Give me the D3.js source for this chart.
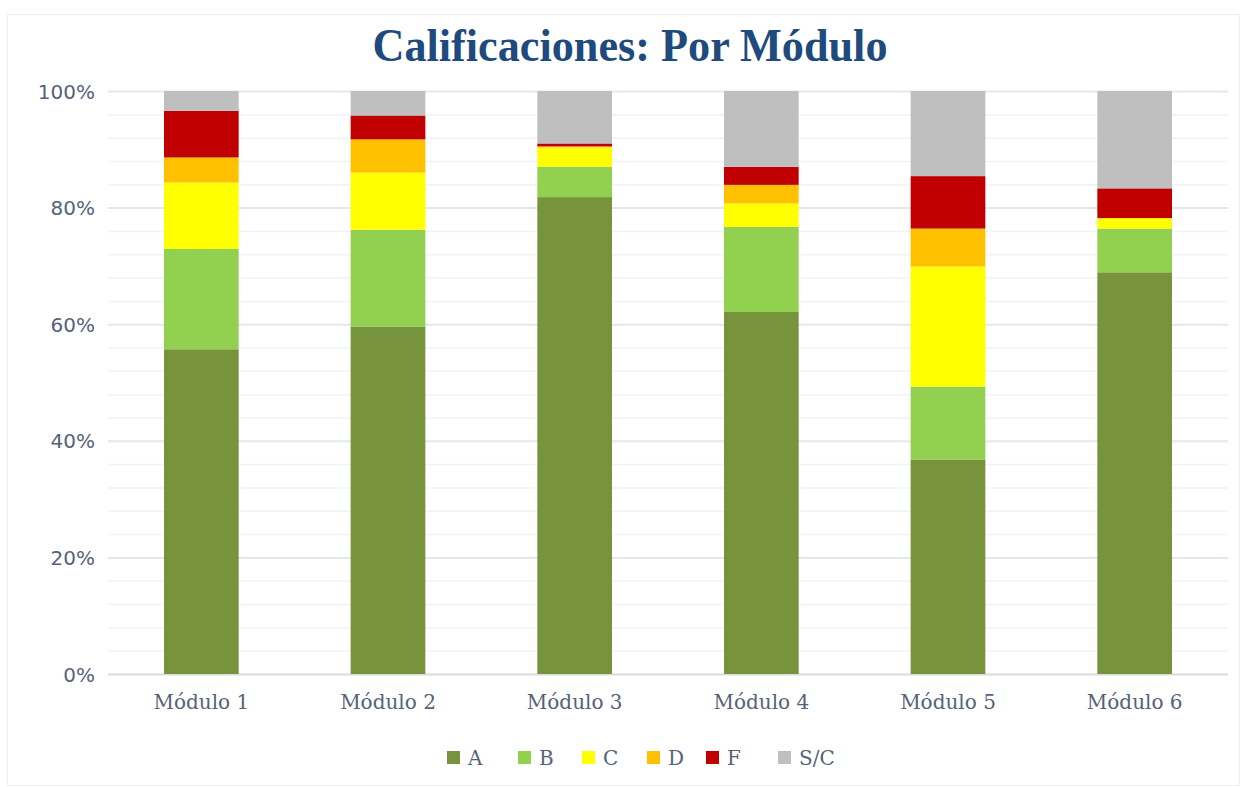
<!DOCTYPE html>
<html>
<head>
<meta charset="utf-8">
<script src="https://cdn.jsdelivr.net/npm/d3@7"></script>
<style>
  body { margin: 0; background: #fff; }
  svg { display: block; }
</style>
</head>
<body>
<svg width="1241" height="787"></svg>
<script>
// datos (porcentaje por modulo)
const modulos = ["Módulo 1", "Módulo 2", "Módulo 3", "Módulo 4", "Módulo 5", "Módulo 6"];
const notas = ["A", "B", "C", "D", "F", "S/C"];
const valA = [55.7, 59.6, 81.8, 62.1, 36.8, 68.9];
const valB = [17.2, 16.6, 5.2, 14.6, 12.5, 7.5];
const valC = [11.4, 9.8, 3.3, 4.0, 20.6, 1.8];
const valD = [4.3, 5.7, 0.2, 3.2, 6.5, 0.0];
const valF = [8.0, 4.1, 0.5, 3.1, 9.0, 5.1];
const valSC = [3.4, 4.2, 9.0, 13.0, 14.6, 16.7];
const yTicks = [0, 20, 40, 60, 80, 100];

const colores = ["#77933C", "#92D050", "#FFFF00", "#FFC000", "#C00000", "#BFBFBF"];

const series = [valA, valB, valC, valD, valF, valSC];
const data = modulos.map((m, i) => {
  const row = { modulo: m };
  notas.forEach((n, j) => { row[n] = series[j][i]; });
  return row;
});

const svg = d3.select("svg");
const width = +svg.attr("width");
const height = +svg.attr("height");

// marco del grafico
svg.append("rect")
  .attr("x", 7.5).attr("y", 14.5)
  .attr("width", 1232).attr("height", 771)
  .attr("fill", "none")
  .attr("stroke", "#ECEEF2");

const margin = { top: 91, right: 13, bottom: 113, left: 108 };
const innerWidth = width - margin.left - margin.right;
const innerHeight = height - margin.top - margin.bottom;

const x = d3.scaleBand()
  .domain(modulos)
  .range([0, innerWidth])
  .paddingInner(0.6)
  .paddingOuter(0.3);

const y = d3.scaleLinear()
  .domain([0, 100])
  .range([innerHeight, 0]);

const g = svg.append("g")
  .attr("transform", `translate(${margin.left},${margin.top})`);

// lineas menores cada 4%
g.append("g")
  .selectAll("line")
  .data(d3.range(4, 100, 4).filter(v => v % 20 !== 0))
  .enter().append("line")
  .attr("x1", 0).attr("x2", innerWidth)
  .attr("y1", d => y(d) + 0.5).attr("y2", d => y(d) + 0.5)
  .attr("stroke", "#F1F2F6")
  .attr("stroke-width", 1.5);

const yAxis = d3.axisLeft(y)
  .tickValues(yTicks)
  .tickFormat(d => d + "%")
  .tickSize(-innerWidth)
  .tickPadding(13);

const yAxisG = g.append("g")
  .call(yAxis)
  .attr("font-family", "'DejaVu Sans', sans-serif")
  .attr("font-size", 20);
yAxisG.select(".domain").remove();
yAxisG.selectAll(".tick line")
  .attr("stroke", d => d === 0 ? "#D9DBE1" : "#E4E7EE")
  .attr("stroke-width", 2);
yAxisG.selectAll(".tick text")
  .attr("fill", "#56627A")
  .attr("text-anchor", "end")
  .attr("dy", null)
  .attr("y", 7);

const stack = d3.stack().keys(notas);
const stacked = stack(data);

g.selectAll(".serie")
  .data(stacked)
  .enter().append("g")
  .attr("class", "serie")
  .attr("fill", (d, i) => colores[i])
  .selectAll("rect")
  .data(d => d)
  .enter().append("rect")
  .attr("x", d => x(d.data.modulo))
  .attr("y", d => y(d[1]))
  .attr("width", x.bandwidth())
  .attr("height", d => y(d[0]) - y(d[1]));

const xAxisG = g.append("g")
  .attr("transform", `translate(0,${innerHeight})`)
  .call(d3.axisBottom(x).tickSize(0))
  .attr("font-family", "'DejaVu Serif', serif")
  .attr("font-size", 20);
xAxisG.select(".domain").remove();
xAxisG.selectAll(".tick text")
  .attr("fill", "#56627A")
  .attr("text-anchor", "middle")
  .attr("dy", null)
  .attr("y", 35);

// titulo
svg.append("text")
  .attr("x", 630)
  .attr("y", 61)
  .attr("text-anchor", "middle")
  .attr("fill", "#1F4A7D")
  .attr("font-family", "'Liberation Serif', serif")
  .attr("font-weight", "bold")
  .attr("font-size", 47)
  .attr("textLength", 515)
  .attr("lengthAdjust", "spacingAndGlyphs")
  .text("Calificaciones: Por Módulo");

// leyenda
const legendX = [447, 518, 582, 647, 706, 778];
const legend = svg.append("g")
  .attr("class", "legend")
  .attr("font-family", "'DejaVu Serif', serif")
  .attr("font-size", 20);
const item = legend.selectAll("g")
  .data(notas)
  .enter().append("g")
  .attr("transform", (d, i) => `translate(${legendX[i]},751)`);
item.append("rect")
  .attr("width", 13).attr("height", 13)
  .attr("fill", (d, i) => colores[i]);
item.append("text")
  .attr("x", 21).attr("y", 14)
  .attr("fill", "#56627A")
  .text(d => d);
</script>
</body>
</html>
